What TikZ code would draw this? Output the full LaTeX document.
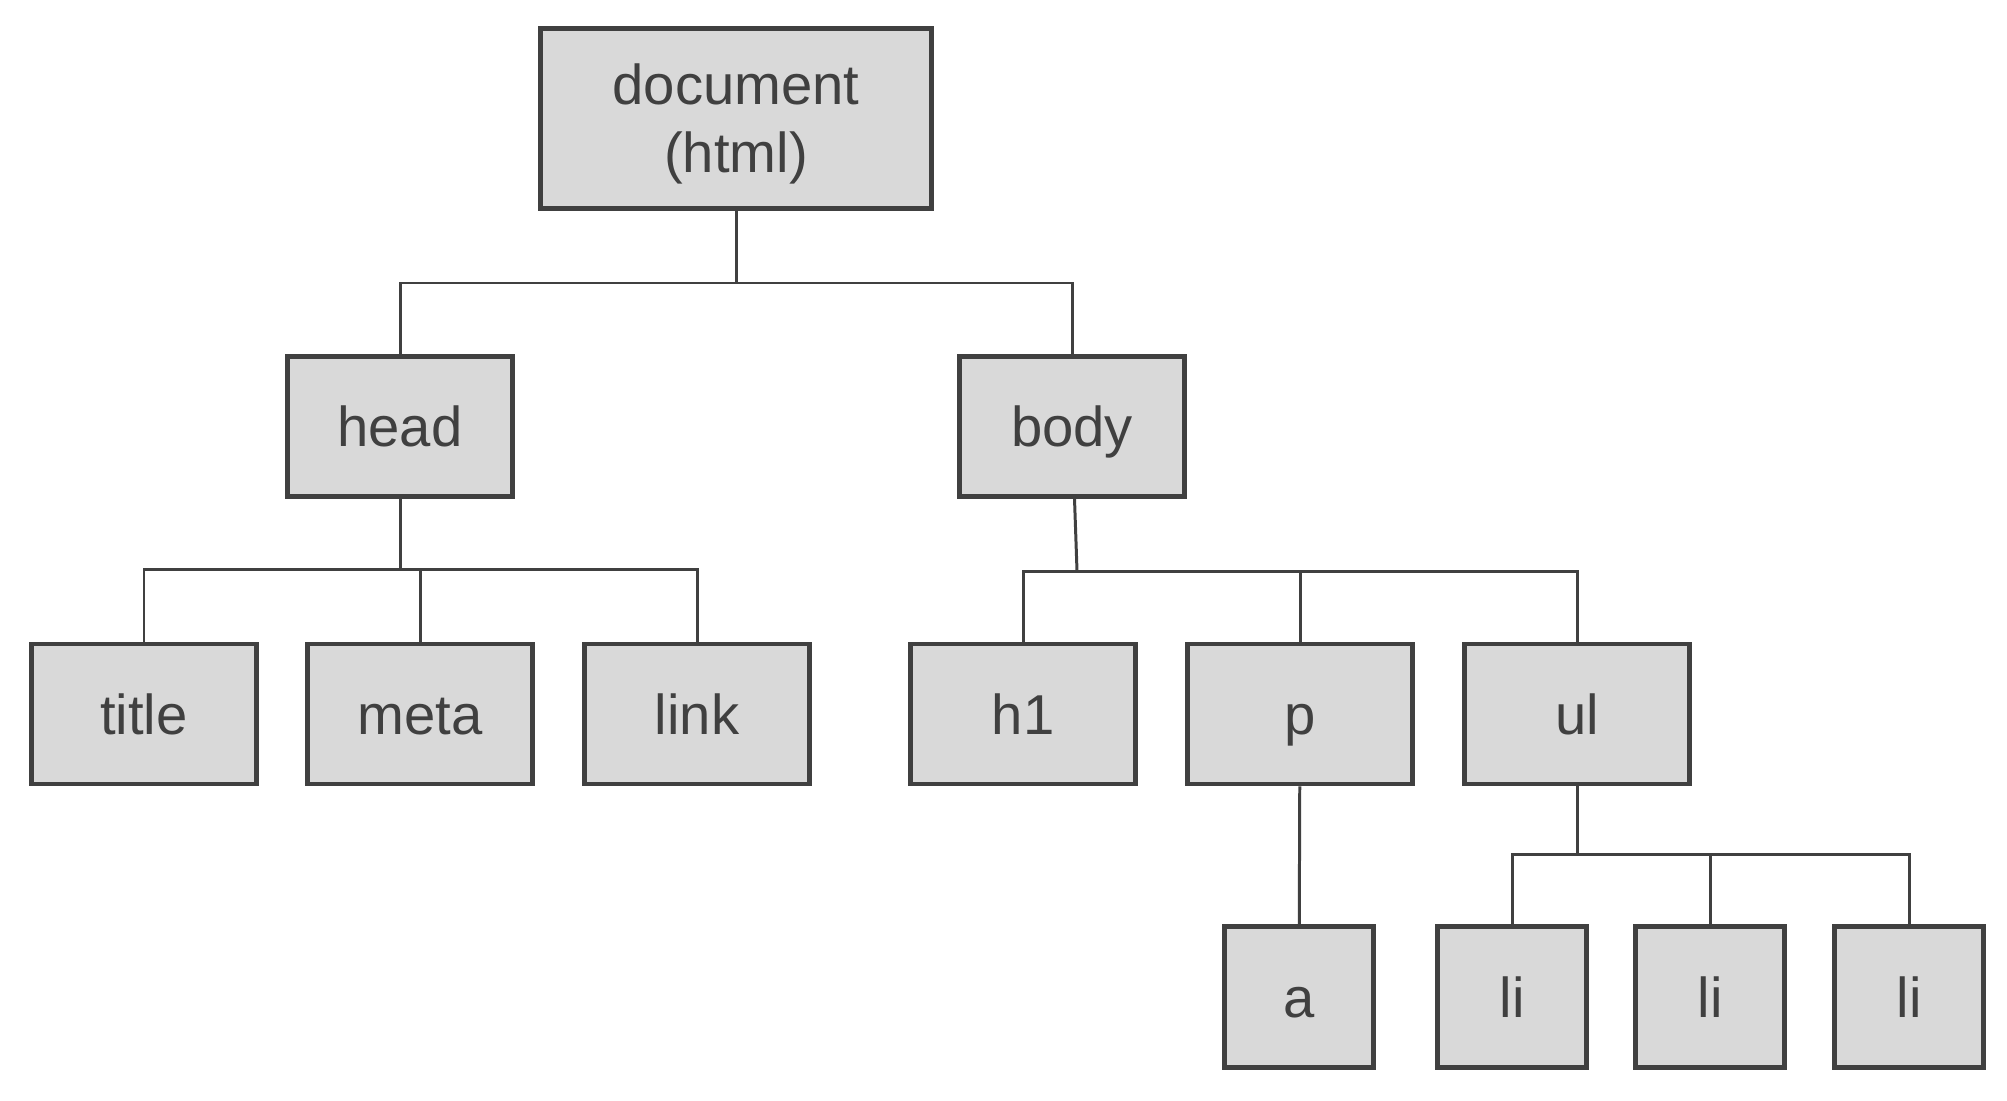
\documentclass[tikz,border=0pt]{standalone}
\usepackage{fontspec}
\setmainfont{Liberation Sans}
\definecolor{boxgray}{HTML}{D9D9D9}
\definecolor{linegray}{HTML}{404040}

\begin{document}
\begin{tikzpicture}[
	box/.style = {draw = linegray, line width = 1.4pt, fill = boxgray, text = linegray, inner sep = 0pt, font = \fontsize{16}{19.4}\selectfont},
	tag/.style = {box, minimum width = 2.25cm, minimum height = 1.40cm, text height = 11.5pt, text depth = 0pt},
	leaf/.style = {tag, minimum width = 1.49cm, minimum height = 1.41cm},
	edge/.style = {draw = linegray, line width = 0.85pt}
]
	\useasboundingbox (0, 0) rectangle (20.07, -11);
	\node[box, minimum width = 3.91cm, minimum height = 1.80cm, align = center, text depth = 0pt] (doc) at (7.36, -1.185) {document\\(html)};
	\node[tag] (head) at (4.00, -4.265) {head};
	\node[tag] (body) at (10.72, -4.265) {body};
	\node[tag] (title) at (1.44, -7.14) {title};
	\node[tag] (meta) at (4.20, -7.14) {meta};
	\node[tag] (link) at (6.97, -7.14) {link};
	\node[tag] (h1) at (10.23, -7.14) {h1};
	\node[tag] (p) at (13.00, -7.14) {p};
	\node[tag] (ul) at (15.77, -7.14) {ul};
	\node[leaf] (a) at (12.99, -9.97) {a};
	\node[leaf] (li1) at (15.12, -9.97) {li};
	\node[leaf] (li2) at (17.10, -9.97) {li};
	\node[leaf] (li3) at (19.09, -9.97) {li};
	\coordinate (dj) at (7.36, -2.83);
	\coordinate (hj) at (4.00, -5.69);
	\coordinate (bj) at (10.77, -5.71);
	\coordinate (uj) at (15.77, -8.545);
	\draw[edge] (doc) to (dj);
	\draw[edge] (head) |- (dj) -| (body);
	\draw[edge] (head) to (hj);
	\draw[edge] (title) |- (hj) -| (link);
	\draw[edge] (meta) to (meta |- hj);
	\draw[edge] (body) to (bj);
	\draw[edge] (h1) |- (bj) -| (ul);
	\draw[edge] (p) to (p |- bj);
	\draw[edge] (p) to (a);
	\draw[edge] (ul) to (uj);
	\draw[edge] (li1) |- (uj) -| (li3);
	\draw[edge] (li2) to (li2 |- uj);
\end{tikzpicture}
\end{document}
